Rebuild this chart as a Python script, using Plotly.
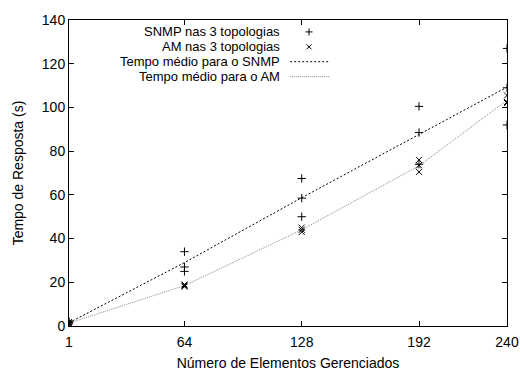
import plotly.graph_objects as go

# ---- data ----
x_cats = [1, 64, 128, 192, 240]
snmp_x = [1, 1, 1, 64, 64, 64, 128, 128, 128, 192, 192, 192, 240, 240, 240]
snmp_y = [1.0, 1.5, 2.0, 34.0, 27.0, 25.0, 67.5, 58.5, 50.0, 100.5, 88.5, 74.0, 127.0, 109.0, 92.0]
am_x = [1, 1, 1, 64, 64, 64, 128, 128, 128, 192, 192, 192, 240, 240, 240]
am_y = [1.0, 1.3, 1.8, 18.0, 18.5, 19.0, 45.0, 44.0, 43.0, 76.0, 73.5, 70.5, 105.5, 102.5, 102.0]
snmp_mean = [1.5, 29.0, 58.7, 87.7, 109.3]
am_mean = [1.3, 18.5, 44.0, 73.3, 103.3]
y_ticks = [0, 20, 40, 60, 80, 100, 120, 140]
legend_labels = ["SNMP nas 3 topologias", "AM nas 3 topologias",
                 "Tempo médio para o SNMP", "Tempo médio para o AM"]

FONT = "Liberation Sans, Arial, sans-serif"
fs = 14
lfs = 13

plus_marker = dict(symbol="cross-thin-open", size=6, color="black", line=dict(color="black", width=1))
x_marker = dict(symbol="x-thin-open", size=6, color="black", line=dict(color="black", width=1))

fig = go.Figure()
fig.add_trace(go.Scatter(x=x_cats, y=snmp_mean, mode="lines",
                         line=dict(color="black", width=1, dash="2px,2px"), showlegend=False))
fig.add_trace(go.Scatter(x=x_cats, y=am_mean, mode="lines",
                         line=dict(color="#8a8a8a", width=1, dash="1px,1px"), showlegend=False))
fig.add_trace(go.Scatter(x=snmp_x, y=snmp_y, mode="markers", marker=plus_marker, showlegend=False))
fig.add_trace(go.Scatter(x=am_x, y=am_y, mode="markers", marker=x_marker, showlegend=False))

# ---- custom legend (text on the left, sample on the right) ----
row_px = [30, 45, 60, 75]
rows = [(326 - p) / 308 for p in row_px]
text_x = 0.484
sample_x = 0.548
fig.add_trace(go.Scatter(x=[sample_x], y=[rows[0]], xaxis="x2", yaxis="y2", mode="markers",
                         marker=dict(plus_marker, size=5), showlegend=False, hoverinfo="skip"))
fig.add_trace(go.Scatter(x=[sample_x], y=[rows[1]], xaxis="x2", yaxis="y2", mode="markers",
                         marker=dict(x_marker, size=5), showlegend=False, hoverinfo="skip"))
fig.add_shape(type="line", xref="paper", yref="paper", x0=0.505, x1=0.594, y0=rows[2], y1=rows[2],
              line=dict(color="black", width=1, dash="2px,2px"))
fig.add_shape(type="line", xref="paper", yref="paper", x0=0.505, x1=0.594, y0=rows[3], y1=rows[3],
              line=dict(color="#8a8a8a", width=1, dash="1px,1px"))
for lab, ry in zip(legend_labels, rows):
    fig.add_annotation(x=text_x, y=ry, xref="paper", yref="paper", text=lab, showarrow=False,
                       xanchor="right", yanchor="middle", borderpad=0,
                       font=dict(family=FONT, size=lfs, color="black"))

axis_common = dict(showgrid=False, zeroline=False, showline=True, linecolor="black", linewidth=1,
                   mirror="ticks", ticks="inside", ticklen=5, tickcolor="black",
                   tickfont=dict(family=FONT, size=fs, color="black"))
fig.update_layout(
    width=520, height=371,
    margin=dict(l=69, r=13, t=18, b=45),
    paper_bgcolor="white", plot_bgcolor="white",
    font=dict(family=FONT, size=fs, color="black"),
    xaxis=dict(range=[1, 240], tickvals=x_cats, ticktext=[str(v) for v in x_cats],
               ticklabelstandoff=3, automargin=False,
               title=dict(text="Número de Elementos Gerenciados", font=dict(family=FONT, size=fs, color="black"), standoff=13),
               **axis_common),
    yaxis=dict(range=[0, 140], tickvals=y_ticks,
               title=dict(text="Tempo de Resposta (s)", font=dict(family=FONT, size=fs, color="black"), standoff=14),
               **axis_common),
    xaxis2=dict(range=[0, 1], overlaying="x", visible=False),
    yaxis2=dict(range=[0, 1], overlaying="y", visible=False),
    showlegend=False,
)
fig.write_html("out.html")
